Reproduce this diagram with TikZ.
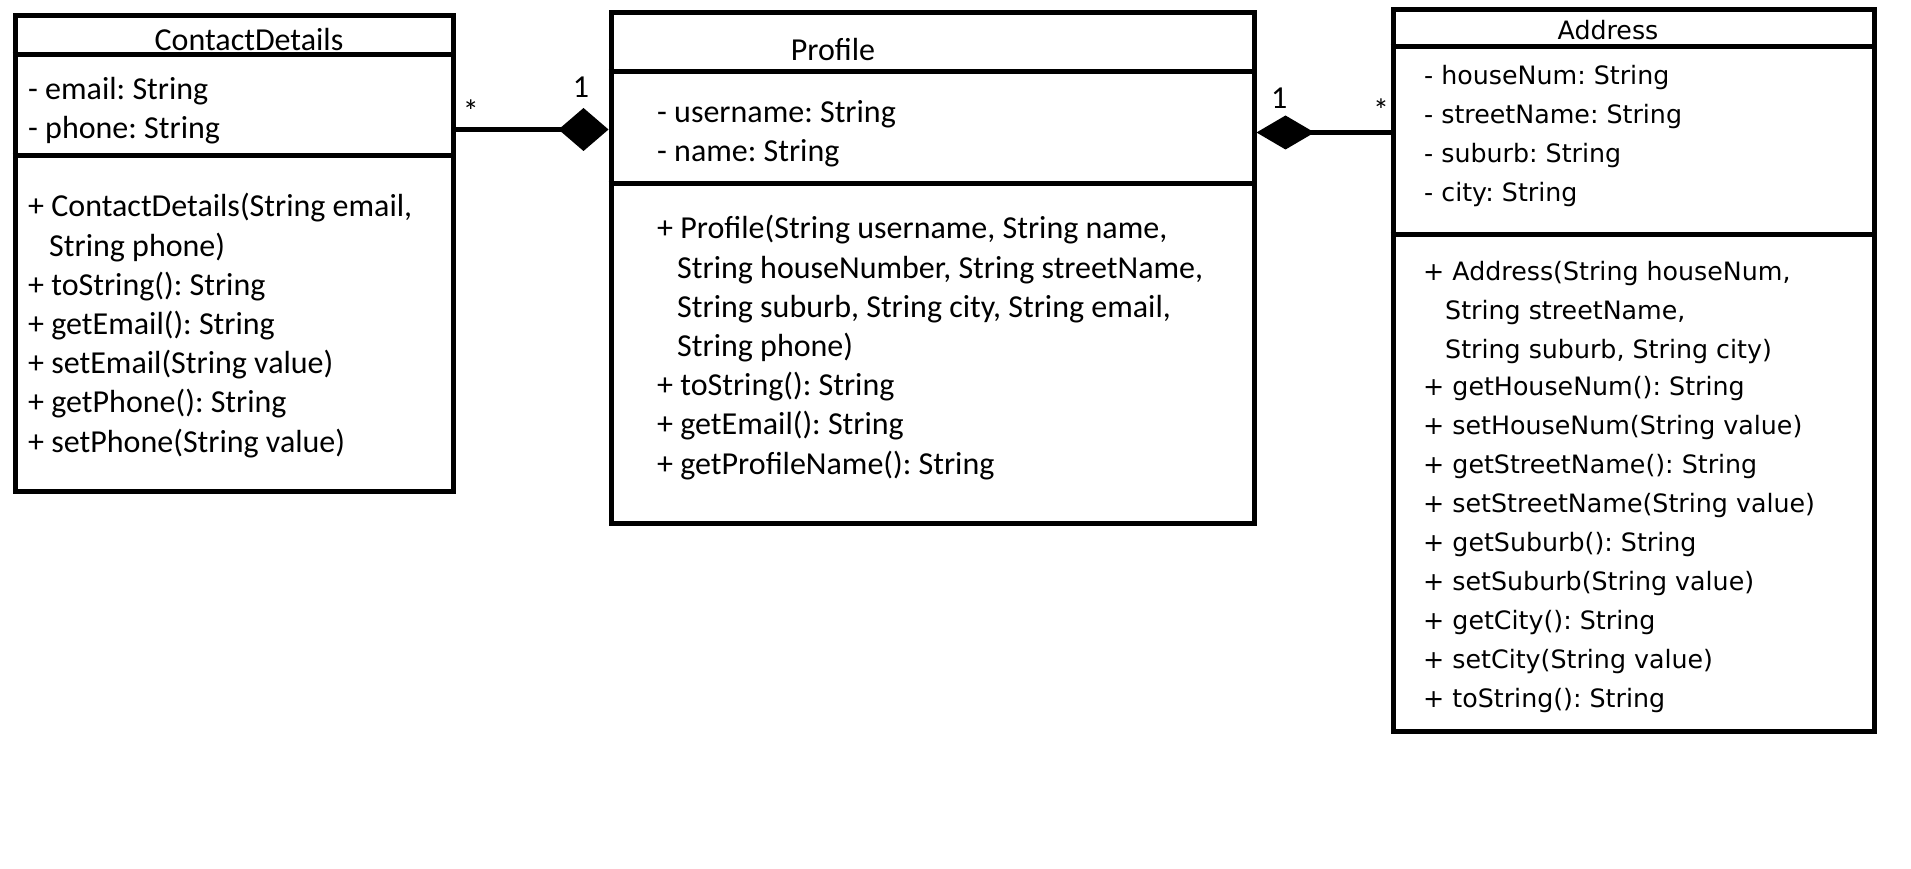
\documentclass[tikz,border=0pt]{standalone}
\usepackage{fontspec}
\usepackage{tikz}
\usetikzlibrary{arrows.meta}
\newfontfamily\calibfont{Carlito}
\newfontfamily\verdfont{DejaVu Sans}
\frenchspacing

\begin{document}
\begin{tikzpicture}[x=1pt,y=1pt,
  classbox/.style={draw,line width=5pt,inner sep=0pt},
  sepline/.style={line width=5pt},
  cfont/.style={font=\calibfont\fontsize{32}{39.2}\selectfont},
  afont/.style={font=\verdfont\fontsize{25.3}{39}\selectfont},
  members/.style={anchor=west,inner sep=0pt,align=left},
  compo/.style={line width=5pt}]
 % \draw[thin,gray!40] (0,0) grid[step=50] (1911,-869);
  \useasboundingbox[fill=white] (0,0) rectangle (1911,-869);

  % the three classes
  \node[classbox,minimum width=438pt,minimum height=475pt] (contact) at (234,-253.5) {};
  \node[classbox,minimum width=643pt,minimum height=510pt] (profile) at (932.5,-268) {};
  \node[classbox,minimum width=481pt,minimum height=721pt] (address) at (1633.5,-370.5) {};

  \draw[sepline] ([yshift=-41pt]contact.north west) -- ([yshift=-41pt]contact.north east);
  \draw[sepline] ([yshift=-142pt]contact.north west) -- ([yshift=-142pt]contact.north east);
  \draw[sepline] ([yshift=-61pt]profile.north west) -- ([yshift=-61pt]profile.north east);
  \draw[sepline] ([yshift=-173pt]profile.north west) -- ([yshift=-173pt]profile.north east);
  \draw[sepline] ([yshift=-39pt]address.north west) -- ([yshift=-39pt]address.north east);
  \draw[sepline] ([yshift=-227pt]address.north west) -- ([yshift=-227pt]address.north east);

  \node[cfont] (contacttitle) at (249,-40) {ContactDetails};
  \node[cfont] (profiletitle) at (833,-50) {Profile};
  \node[afont] (addresstitle) at (1608,-30) {Address};

  \node[members,cfont] (contactattr) at (28,-111) {- email: String\\- phone: String};
  \node[members,cfont] (contactops) at (28,-325.5) {+ ContactDetails(String email,\\\hspace*{21pt}String phone)\\+ toString(): String\\+ getEmail(): String\\+ setEmail(String value)\\+ getPhone(): String\\+ setPhone(String value)};

  \node[members,cfont] (profileattr) at (657,-134) {- username: String\\- name: String};
  \node[members,cfont] (profileops) at (657,-347.5) {+ Profile(String username, String name,\\\hspace*{20pt}String houseNumber, String streetName,\\\hspace*{20pt}String suburb, String city, String email,\\\hspace*{20pt}String phone)\\+ toString(): String\\+ getEmail(): String\\+ getProfileName(): String};

  \node[members,afont] (addressattr) at (1424,-136.5) {- houseNum: String\\- streetName: String\\- suburb: String\\- city: String};
  \node[members,afont] (addressops) at (1423,-487) {+ Address(String houseNum,\\\hspace*{22pt}String streetName,\\\hspace*{22pt}String suburb, String city)\\[-2pt]+ getHouseNum(): String\\+ setHouseNum(String value)\\+ getStreetName(): String\\+ setStreetName(String value)\\+ getSuburb(): String\\+ setSuburb(String value)\\+ getCity(): String\\+ setCity(String value)\\+ toString(): String};

  % compositions
  \coordinate (cdR) at ([yshift=-116pt]contact.north east);
  \coordinate (adL) at ([yshift=-125pt]address.north west);
  \draw[compo,-{Diamond[length=50pt,width=43pt]}] (cdR) -- (profile.west |- cdR)
    node[cfont,pos=0.1,yshift=18pt] (cdmult) {*}
    node[cfont,pos=0.82,yshift=42pt] (pfmultL) {1};
  \draw[compo,-{Diamond[length=58pt,width=34pt]}] (adL) -- (profile.east |- adL)
    node[cfont,pos=0.07,yshift=22pt] (admult) {*}
    node[cfont,pos=0.83,yshift=34pt] (pfmultR) {1};
\end{tikzpicture}
\end{document}
